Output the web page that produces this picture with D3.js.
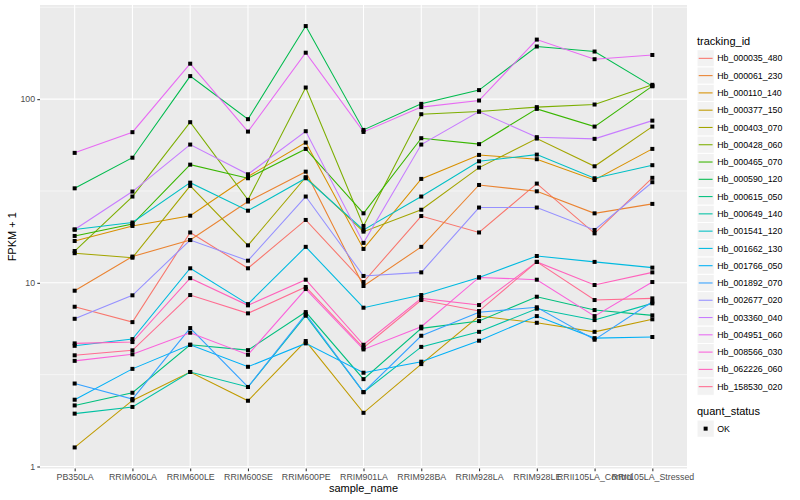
<!DOCTYPE html>
<html>
<head>
<meta charset="utf-8">
<script src="https://cdn.jsdelivr.net/npm/d3@7"></script>
<style>
  body { margin: 0; background: #fff; }
  text { font-family: "Liberation Sans", Arial, sans-serif; }
</style>
</head>
<body>
<svg id="chart" width="800" height="500"></svg>
<script>
const samples = ['PB350LA', 'RRIM600LA', 'RRIM600LE', 'RRIM600SE', 'RRIM600PE', 'RRIM901LA',
  'RRIM928BA', 'RRIM928LA', 'RRIM928LE', 'RRII105LA_Control', 'RRII105LA_Stressed'];

const trackingIds = ['Hb_000035_480', 'Hb_000061_230', 'Hb_000110_140', 'Hb_000377_150', 'Hb_000403_070',
  'Hb_000428_060', 'Hb_000465_070', 'Hb_000590_120', 'Hb_000615_050', 'Hb_000649_140', 'Hb_001541_120',
  'Hb_001662_130', 'Hb_001766_050', 'Hb_001892_070', 'Hb_002677_020', 'Hb_003360_040', 'Hb_004951_060',
  'Hb_008566_030', 'Hb_062226_060', 'Hb_158530_020'];

// FPKM + 1 per sample, one array per transcript
const Hb_000035_480 = [7.41, 6.11, 18.8, 12.0, 22.0, 10.1, 23.1, 18.8, 34.7, 18.6, 37.3];
const Hb_000061_230 = [9.06, 13.9, 17.1, 27.7, 40.3, 9.61, 15.7, 34.1, 31.5, 23.9, 26.9];
const Hb_000110_140 = [16.9, 20.4, 23.2, 37.9, 58.0, 15.3, 36.8, 49.7, 47.1, 36.3, 53.6];
const Hb_000377_150 = [1.27, 2.29, 3.27, 2.28, 4.82, 1.96, 3.61, 6.59, 6.06, 5.41, 6.33];
const Hb_000403_070 = [14.5, 13.7, 33.7, 16.0, 37.6, 19.0, 25.0, 42.4, 61.0, 43.1, 70.9];
const Hb_000428_060 = [14.9, 29.5, 74.9, 28.3, 115.7, 20.4, 82.8, 85.6, 90.5, 93.5, 119.7];
const Hb_000465_070 = [18.0, 20.9, 44.0, 37.1, 53.6, 23.9, 61.3, 56.9, 88.5, 70.9, 117.7];
const Hb_000590_120 = [32.7, 48.0, 133.5, 77.8, 250, 68.0, 94.3, 112, 193.5, 181.7, 117.7];
const Hb_000615_050 = [2.15, 2.52, 4.60, 4.30, 6.93, 2.99, 5.65, 6.19, 8.40, 7.11, 6.65];
const Hb_000649_140 = [1.94, 2.11, 3.27, 2.71, 6.62, 2.54, 4.48, 5.41, 7.23, 6.27, 7.73];
const Hb_001541_120 = [19.5, 21.3, 35.1, 24.7, 37.1, 19.4, 29.5, 45.9, 49.9, 37.1, 43.7];
const Hb_001662_130 = [4.54, 4.94, 12.0, 7.66, 15.7, 7.32, 8.58, 10.7, 14.0, 13.0, 12.1];
const Hb_001766_050 = [2.31, 3.40, 4.60, 3.49, 4.68, 3.24, 3.72, 4.84, 6.59, 5.00, 5.07];
const Hb_001892_070 = [2.83, 2.33, 5.67, 2.71, 6.76, 2.54, 5.15, 6.91, 7.36, 4.90, 7.89];
const Hb_002677_020 = [6.37, 8.55, 17.1, 13.2, 29.5, 10.9, 11.4, 25.7, 25.7, 19.4, 35.3];
const Hb_003360_040 = [19.5, 31.4, 56.6, 39.0, 66.9, 16.5, 56.6, 85.6, 62.1, 60.8, 76.4];
const Hb_004951_060 = [51.0, 66.1, 156, 66.6, 179, 66.3, 90.5, 98.3, 211, 165, 174];
const Hb_008566_030 = [3.76, 4.08, 5.35, 4.06, 9.25, 4.34, 5.77, 10.7, 10.4, 6.59, 10.1];
const Hb_062226_060 = [4.68, 4.76, 10.6, 7.54, 10.4, 4.60, 8.23, 7.57, 13.0, 9.73, 11.4];
const Hb_158530_020 = [4.03, 4.29, 8.58, 6.82, 9.49, 4.43, 8.06, 7.02, 13.0, 8.06, 8.23];

const seriesValues = [Hb_000035_480, Hb_000061_230, Hb_000110_140, Hb_000377_150, Hb_000403_070,
  Hb_000428_060, Hb_000465_070, Hb_000590_120, Hb_000615_050, Hb_000649_140, Hb_001541_120,
  Hb_001662_130, Hb_001766_050, Hb_001892_070, Hb_002677_020, Hb_003360_040, Hb_004951_060,
  Hb_008566_030, Hb_062226_060, Hb_158530_020];

const yTicks = [1, 10, 100];
const quantStatus = ['OK'];

// ggplot default hue palette for 20 levels
const palette = ['#F8766D', '#EA8331', '#D89000', '#C09B00', '#A3A500', '#7CAE00', '#39B600', '#00BB4E',
  '#00BF7D', '#00C1A3', '#00BFC4', '#00BAE0', '#00B0F6', '#35A2FF', '#9590FF', '#C77CFF', '#E76BF3',
  '#FA62DB', '#FF62BC', '#FF6C91'];

const panel = { left: 40, right: 687, top: 5, bottom: 468.5 };
const svg = d3.select('#chart');

// log scale with ggplot-like 5% expansion
let allVals = seriesValues.flat();
let lo = Math.log10(d3.min(allVals)), hi = Math.log10(d3.max(allVals));
let pad = (hi - lo) * 0.05;
const y = d3.scaleLog().domain([10 ** (lo - pad), 10 ** (hi + pad)]).range([panel.bottom, panel.top]);
const x = d3.scalePoint().domain(samples).range([panel.left, panel.right]).padding(0.6);
const color = d3.scaleOrdinal().domain(trackingIds).range(palette);

svg.append('rect')
  .attr('x', panel.left).attr('y', panel.top)
  .attr('width', panel.right - panel.left).attr('height', panel.bottom - panel.top)
  .attr('fill', '#EBEBEB');

// minor grid at half decades
let minor = [0.5, 1.5, 2.5].map((e) => 10 ** e).filter((v) => v > y.domain()[0] && v < y.domain()[1]);
svg.append('g').selectAll('line').data(minor).join('line')
  .attr('x1', panel.left).attr('x2', panel.right)
  .attr('y1', (d) => y(d)).attr('y2', (d) => y(d))
  .attr('stroke', '#fff').attr('stroke-width', 0.53);

svg.append('g').selectAll('line').data(yTicks).join('line')
  .attr('x1', panel.left).attr('x2', panel.right)
  .attr('y1', (d) => y(d)).attr('y2', (d) => y(d))
  .attr('stroke', '#fff').attr('stroke-width', 1.07);

svg.append('g').selectAll('line').data(samples).join('line')
  .attr('x1', (d) => x(d)).attr('x2', (d) => x(d))
  .attr('y1', panel.top).attr('y2', panel.bottom)
  .attr('stroke', '#fff').attr('stroke-width', 1.07);

// lines
let line = d3.line().x((d, i) => x(samples[i])).y((d) => y(d));
svg.append('g').selectAll('path').data(seriesValues).join('path')
  .attr('d', line)
  .attr('fill', 'none')
  .attr('stroke', (d, i) => color(trackingIds[i]))
  .attr('stroke-width', 1.07);

// points
let pts = seriesValues.flatMap((vals) => vals.map((v, i) => ({ s: samples[i], v })));
svg.append('g').selectAll('rect').data(pts).join('rect')
  .attr('x', (d) => x(d.s) - 2).attr('y', (d) => y(d.v) - 2)
  .attr('width', 4).attr('height', 4)
  .attr('fill', '#000');

// axes
let yAxis = svg.append('g').attr('transform', `translate(${panel.left},0)`)
  .call(d3.axisLeft(y).tickValues(yTicks).tickFormat(d3.format('d')).tickSize(2.7).tickPadding(2.2));
let xAxis = svg.append('g').attr('transform', `translate(0,${panel.bottom})`)
  .call(d3.axisBottom(x).tickSize(2.7).tickPadding(2.2));
[yAxis, xAxis].forEach((ax) => {
  ax.select('.domain').remove();
  ax.selectAll('.tick line').attr('stroke', '#333333').attr('stroke-width', 1.07);
  ax.selectAll('.tick text').attr('fill', '#4D4D4D').style('font-size', '8.8px')
    .style('font-family', '"Liberation Sans", Arial, sans-serif');
});

svg.append('text')
  .attr('x', (panel.left + panel.right) / 2).attr('y', 492)
  .attr('text-anchor', 'middle').style('font-size', '11px')
  .text('sample_name');

svg.append('text')
  .attr('transform', `translate(16,${(panel.top + panel.bottom) / 2}) rotate(-90)`)
  .attr('text-anchor', 'middle').style('font-size', '11px')
  .text('FPKM + 1');

// legends
let keySize = 17.28, legX = 697;
let leg = svg.append('g');
leg.append('text').attr('x', legX).attr('y', 44.5).style('font-size', '11px').text('tracking_id');
trackingIds.forEach((id, i) => {
  let ky = 49.7 + i * keySize;
  leg.append('rect').attr('x', legX).attr('y', ky).attr('width', keySize).attr('height', keySize)
    .attr('fill', '#F2F2F2').attr('stroke', '#fff');
  leg.append('line').attr('x1', legX + 1.7).attr('x2', legX + keySize - 1.7)
    .attr('y1', ky + keySize / 2).attr('y2', ky + keySize / 2)
    .attr('stroke', color(id)).attr('stroke-width', 1.07);
  leg.append('text').attr('x', legX + keySize + 3).attr('y', ky + keySize / 2 + 3.1)
    .style('font-size', '8.8px').text(id);
});

let qTop = 415;
leg.append('text').attr('x', legX).attr('y', qTop).style('font-size', '11px').text('quant_status');
quantStatus.forEach((q, i) => {
  let ky = qTop + 5 + i * keySize;
  leg.append('rect').attr('x', legX).attr('y', ky).attr('width', keySize).attr('height', keySize)
    .attr('fill', '#F2F2F2').attr('stroke', '#fff');
  leg.append('rect').attr('x', legX + keySize / 2 - 2).attr('y', ky + keySize / 2 - 2)
    .attr('width', 4).attr('height', 4).attr('fill', '#000');
  leg.append('text').attr('x', legX + keySize + 3).attr('y', ky + keySize / 2 + 3.1)
    .style('font-size', '8.8px').text(q);
});
</script>
</body>
</html>
